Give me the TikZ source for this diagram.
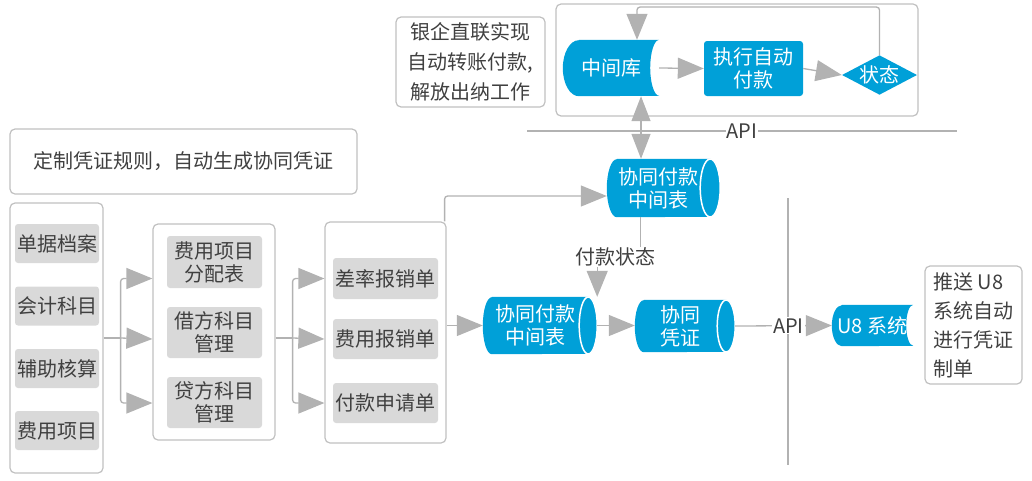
\documentclass[tikz,border=0pt]{standalone}
\usepackage{fontspec}
\setmainfont{Noto Sans CJK SC}
\usetikzlibrary{arrows.meta,shapes.geometric,backgrounds,calc}
\definecolor{myblue}{RGB}{0,160,216}
\definecolor{lgray}{RGB}{178,178,178}
\definecolor{bgray}{RGB}{192,192,192}
\definecolor{ifill}{RGB}{217,217,217}
\definecolor{tgray}{RGB}{64,64,64}
\newcommand\mytape[4]{%
  \fill[myblue] ($(#1.north west)+(#2,0)$) -- (#1.north east)
    arc[start angle=-90,end angle=-270,x radius=#3,y radius=#4]
    -- ($(#1.south west)+(#2,0)$)
    arc[start angle=90,end angle=270,x radius=#2,y radius=#4] -- cycle;}
\newcommand\mycyl[3]{%
  \fill[myblue] ($(#1.north west)+(#2,0)$) -- (#1.north east)
    arc[start angle=-90,end angle=90,x radius=#2,y radius=#3]
    -- ($(#1.south west)+(#2,0)$)
    arc[start angle=90,end angle=270,x radius=#2,y radius=#3] -- cycle;
  \draw[white,line width=1.5pt,fill=myblue] (#1.east) ellipse[x radius=#2,y radius=#3];}
\begin{document}
\begin{tikzpicture}[x=1pt,y=-1pt,
  font=\fontsize{20}{23}\selectfont,
  frame/.style={draw=bgray,line width=1.2pt,rounded corners=5pt,text=tgray,align=center,inner sep=0pt},
  item/.style={fill=ifill,rounded corners=3pt,text=tgray,align=center,inner sep=0pt},
  bluetxt/.style={text=white,align=center,inner sep=0pt},
  lbl/.style={text=tgray,inner sep=1pt},
  conn/.style={draw=lgray,line width=1.3pt},
  arr/.style={conn,-{Triangle[length=26pt,width=21pt]}},
]
\useasboundingbox (0,0) rectangle (1032,480);

% ---------- top area ----------
\node[frame,minimum width=149,minimum height=90,font=\fontsize{20}{30}\selectfont] (yq) at (470.5,62) {银企直联实现\\自动转账付款,\\解放出纳工作};
\node[frame,minimum width=362,minimum height=112] (bigbox) at (737,60) {};
\node[bluetxt,minimum width=96,minimum height=56] (zjk) at (611,68) {中间库};
\node[bluetxt,fill=myblue,rounded corners=3pt,minimum width=99,minimum height=55] (zx) at (753.5,68.5) {执行自动\\付款};
\node[diamond,fill=myblue,text=white,inner sep=0pt,aspect=1.9] (zt) at (879.5,75) {状态};

% ---------- middle ----------
\node[frame,minimum width=347,minimum height=65] (dz) at (183.5,161.5) {定制凭证规则，自动生成协同凭证};

\node[frame,minimum width=93,minimum height=270] (b1) at (56.5,338) {};
\node[item,minimum width=84,minimum height=39] (a1) at (57,243.5) {单据档案};
\node[item,minimum width=84,minimum height=39] (a2) at (57,306) {会计科目};
\node[item,minimum width=84,minimum height=39] (a3) at (57,368.5) {辅助核算};
\node[item,minimum width=84,minimum height=39] (a4) at (57,430.5) {费用项目};

\node[frame,minimum width=122,minimum height=216] (b2) at (214,332) {};
\node[item,minimum width=95,minimum height=52] (m1) at (214.5,262) {费用项目\\分配表};
\node[item,minimum width=95,minimum height=51] (m2) at (214.5,332.5) {借方科目\\管理};
\node[item,minimum width=95,minimum height=51] (m3) at (214.5,402.5) {贷方科目\\管理};

\node[frame,minimum width=121,minimum height=221] (b3) at (385.5,332.5) {};
\node[item,minimum width=105,minimum height=41] (r1) at (385.5,278.5) {差率报销单};
\node[item,minimum width=105,minimum height=40] (r2) at (385.5,339) {费用报销单};
\node[item,minimum width=105,minimum height=40] (r3) at (385.5,403) {付款申请单};

\node[bluetxt,minimum width=103,minimum height=58] (tc) at (658.5,188) {协同付款\\中间表};
\node[bluetxt,minimum width=105,minimum height=57] (botc) at (535.5,325.5) {协同付款\\中间表};
\node[bluetxt,minimum width=91,minimum height=52] (xtpz) at (680.5,326) {协同\\凭证};
\node[bluetxt,minimum width=81,minimum height=41] (u8) at (872.5,325.5) {U8 系统};
\node[lbl] (fkzt) at (615,257) {付款状态};

\node[frame,minimum width=97,minimum height=118,align=left,font=\fontsize{20}{29}\selectfont] (ts) at (973.5,325) {推送 U8\\系统自动\\进行凭证\\制单};

% ---------- blue shapes ----------
\begin{scope}[on background layer]
  \mytape{zjk}{16}{9}{28}
  \mytape{u8}{10}{7}{20.5}
  \mycyl{tc}{10}{29}
  \mycyl{botc}{9}{28.5}
  \mycyl{xtpz}{9}{26}
\end{scope}

% ---------- connectors ----------
\draw[arr,rounded corners=3pt] (zt.north) -- ++(0,-48) -| ([xshift=26]zjk.north);
\draw[arr] (zjk.east) -- (zx.west);
\draw[arr] (zx.east) -- (zt.west);
\draw[conn] (527,131) -- node[lbl,fill=white]{API} (957,131);
\draw[conn,{Triangle[length=25pt,width=19pt]}-{Triangle[length=25pt,width=19pt]}] ([xshift=30]zjk.south) -- ([xshift=30]zjk.south |- tc.north);

\coordinate (j1) at ($(b1.east)+(17,0)$);
\draw[conn] (b1.east) -- (j1);
\draw[arr,rounded corners=3pt] (j1) |- (b2.west |- r1);
\draw[arr] (j1) -- (b2.west |- r2);
\draw[arr,rounded corners=3pt] (j1) |- (b2.west |- r3);

\coordinate (j2) at ($(b2.east |- j1)+(17,0)$);
\draw[conn] (b2.east |- j1) -- (j2);
\draw[arr,rounded corners=3pt] (j2) |- (b3.west |- r1);
\draw[arr] (j2) -- (b3.west |- r2);
\draw[arr,rounded corners=3pt] (j2) |- (b3.west |- r3);

\draw[arr,rounded corners=3pt] ([xshift=-2]b3.north east) |- ([yshift=-8]tc.west);
\draw[arr] (b3.east |- botc.west) -- (botc.west);
\draw[conn] ([xshift=-18]tc.south) -- ([xshift=-18]tc.south |- fkzt.north);
\coordinate (bt) at ([xshift=9]botc.north east);
\draw[arr] (fkzt.south -| bt) -- (bt);
\draw[arr] ([xshift=9]botc.east) -- (xtpz.west |- botc.east);

\draw[conn] (788,198) -- (788,465);
\draw[arr] ([xshift=9]xtpz.east) -- node[lbl,fill=white,pos=0.55]{API} (u8.west);
\end{tikzpicture}
\end{document}
